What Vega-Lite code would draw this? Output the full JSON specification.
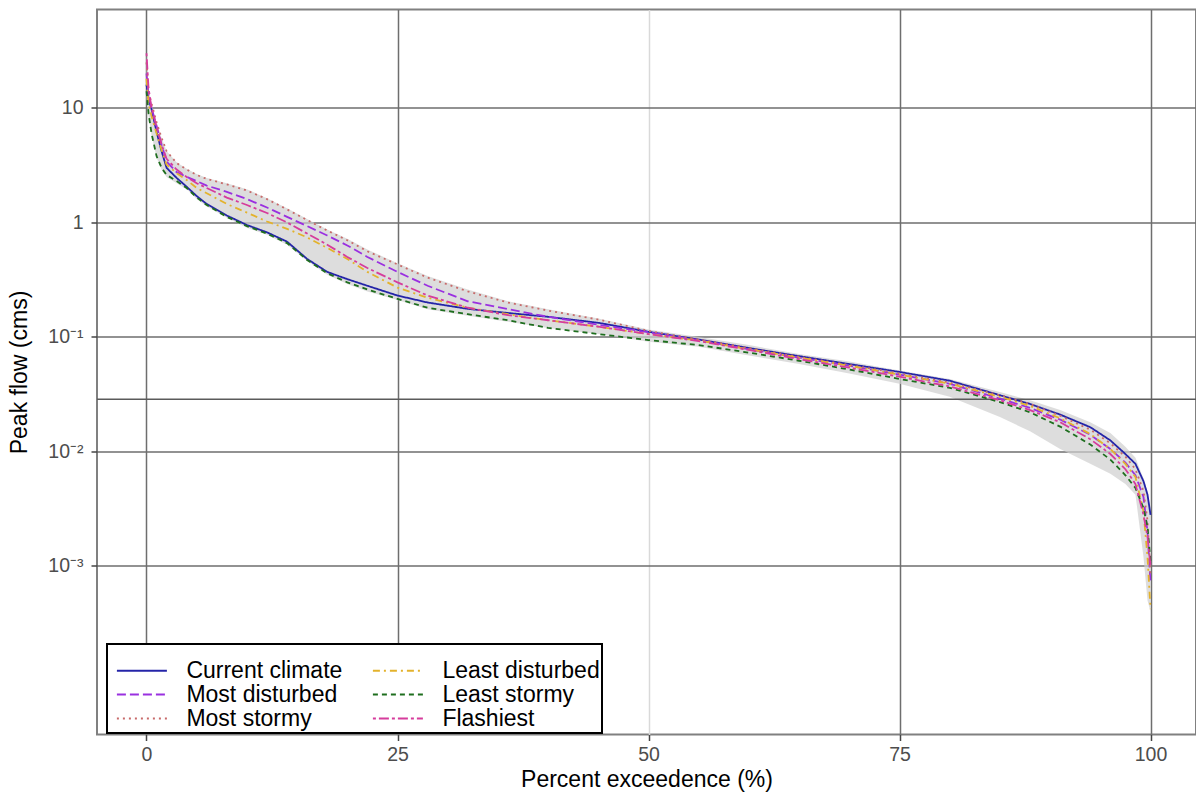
{
"$schema": "https://vega.github.io/schema/vega-lite/v6.json",
"width": 1099, "height": 725,
"autosize": "none",
"padding": {"left": 97, "top": 9.5, "right": 0, "bottom": 63.5},
"background": "white",
"datasets": {
"band": [
{"pct":0,"flow":12,"hi":30},{"pct":0.2,"flow":8.5,"hi":15},{"pct":0.5,"flow":5.8,"hi":11},{"pct":1,"flow":3.7,"hi":7.5},{"pct":1.5,"flow":2.9,"hi":5.5},{"pct":2,"flow":2.5,"hi":4.2},{"pct":3,"flow":2.2,"hi":3.35},{"pct":4,"flow":1.95,"hi":2.95},{"pct":5,"flow":1.6,"hi":2.65},{"pct":6,"flow":1.38,"hi":2.45},{"pct":8,"flow":1.1,"hi":2.2},{"pct":10,"flow":0.9,"hi":1.95},{"pct":12,"flow":0.78,"hi":1.63},{"pct":14,"flow":0.64,"hi":1.33},{"pct":16,"flow":0.46,"hi":1.07},{"pct":18,"flow":0.35,"hi":0.87},{"pct":20,"flow":0.29,"hi":0.72},{"pct":22,"flow":0.25,"hi":0.58},{"pct":25,"flow":0.21,"hi":0.44},{"pct":28,"flow":0.175,"hi":0.34},{"pct":32,"flow":0.153,"hi":0.26},{"pct":36,"flow":0.136,"hi":0.205},{"pct":40,"flow":0.12,"hi":0.175},{"pct":45,"flow":0.106,"hi":0.145},{"pct":50,"flow":0.091,"hi":0.116},{"pct":55,"flow":0.082,"hi":0.1},{"pct":60,"flow":0.069,"hi":0.085},{"pct":65,"flow":0.058,"hi":0.071},{"pct":70,"flow":0.048,"hi":0.061},{"pct":75,"flow":0.039,"hi":0.051},{"pct":80,"flow":0.03,"hi":0.043},{"pct":85,"flow":0.02,"hi":0.033},{"pct":88,"flow":0.015,"hi":0.028},{"pct":91,"flow":0.0105,"hi":0.023},{"pct":94,"flow":0.0078,"hi":0.018},{"pct":96,"flow":0.0064,"hi":0.0145},{"pct":97.5,"flow":0.0052,"hi":0.011},{"pct":98.5,"flow":0.0042,"hi":0.0088},{"pct":99.3,"flow":0.0012,"hi":0.0058},{"pct":99.7,"flow":0.0005,"hi":0.0045},{"pct":100,"flow":0.0004,"hi":0.0032}
],
"threshold": [{"flow": 0.02857}],
"curves": [
{"scenario":"Current climate","pct":0,"flow":16},{"scenario":"Current climate","pct":0.2,"flow":12},{"scenario":"Current climate","pct":0.5,"flow":9.8},{"scenario":"Current climate","pct":1,"flow":6.2},{"scenario":"Current climate","pct":1.5,"flow":4.2},{"scenario":"Current climate","pct":2,"flow":3.0},{"scenario":"Current climate","pct":3,"flow":2.45},{"scenario":"Current climate","pct":4,"flow":2.05},{"scenario":"Current climate","pct":5,"flow":1.7},{"scenario":"Current climate","pct":6,"flow":1.45},{"scenario":"Current climate","pct":8,"flow":1.15},{"scenario":"Current climate","pct":10,"flow":0.95},{"scenario":"Current climate","pct":12,"flow":0.82},{"scenario":"Current climate","pct":14,"flow":0.68},{"scenario":"Current climate","pct":16,"flow":0.48},{"scenario":"Current climate","pct":18,"flow":0.37},{"scenario":"Current climate","pct":20,"flow":0.32},{"scenario":"Current climate","pct":22,"flow":0.28},{"scenario":"Current climate","pct":25,"flow":0.23},{"scenario":"Current climate","pct":28,"flow":0.2},{"scenario":"Current climate","pct":32,"flow":0.176},{"scenario":"Current climate","pct":36,"flow":0.162},{"scenario":"Current climate","pct":40,"flow":0.15},{"scenario":"Current climate","pct":45,"flow":0.133},{"scenario":"Current climate","pct":50,"flow":0.111},{"scenario":"Current climate","pct":55,"flow":0.095},{"scenario":"Current climate","pct":60,"flow":0.08},{"scenario":"Current climate","pct":65,"flow":0.068},{"scenario":"Current climate","pct":70,"flow":0.058},{"scenario":"Current climate","pct":75,"flow":0.0495},{"scenario":"Current climate","pct":80,"flow":0.0415},{"scenario":"Current climate","pct":85,"flow":0.031},{"scenario":"Current climate","pct":88,"flow":0.026},{"scenario":"Current climate","pct":91,"flow":0.021},{"scenario":"Current climate","pct":94,"flow":0.0163},{"scenario":"Current climate","pct":96,"flow":0.0125},{"scenario":"Current climate","pct":97.5,"flow":0.0095},{"scenario":"Current climate","pct":98.5,"flow":0.0078},{"scenario":"Current climate","pct":99.3,"flow":0.0055},{"scenario":"Current climate","pct":99.7,"flow":0.0042},{"scenario":"Current climate","pct":100,"flow":0.0028},
{"scenario":"Most disturbed","pct":0,"flow":20},{"scenario":"Most disturbed","pct":0.2,"flow":13},{"scenario":"Most disturbed","pct":0.5,"flow":10},{"scenario":"Most disturbed","pct":1,"flow":7},{"scenario":"Most disturbed","pct":1.5,"flow":4.8},{"scenario":"Most disturbed","pct":2,"flow":3.4},{"scenario":"Most disturbed","pct":3,"flow":2.75},{"scenario":"Most disturbed","pct":4,"flow":2.5},{"scenario":"Most disturbed","pct":5,"flow":2.3},{"scenario":"Most disturbed","pct":6,"flow":2.1},{"scenario":"Most disturbed","pct":8,"flow":1.85},{"scenario":"Most disturbed","pct":10,"flow":1.6},{"scenario":"Most disturbed","pct":12,"flow":1.35},{"scenario":"Most disturbed","pct":14,"flow":1.12},{"scenario":"Most disturbed","pct":16,"flow":0.93},{"scenario":"Most disturbed","pct":18,"flow":0.77},{"scenario":"Most disturbed","pct":20,"flow":0.63},{"scenario":"Most disturbed","pct":22,"flow":0.5},{"scenario":"Most disturbed","pct":25,"flow":0.37},{"scenario":"Most disturbed","pct":28,"flow":0.28},{"scenario":"Most disturbed","pct":32,"flow":0.205},{"scenario":"Most disturbed","pct":36,"flow":0.175},{"scenario":"Most disturbed","pct":40,"flow":0.15},{"scenario":"Most disturbed","pct":45,"flow":0.128},{"scenario":"Most disturbed","pct":50,"flow":0.11},{"scenario":"Most disturbed","pct":55,"flow":0.094},{"scenario":"Most disturbed","pct":60,"flow":0.078},{"scenario":"Most disturbed","pct":65,"flow":0.066},{"scenario":"Most disturbed","pct":70,"flow":0.056},{"scenario":"Most disturbed","pct":75,"flow":0.047},{"scenario":"Most disturbed","pct":80,"flow":0.039},{"scenario":"Most disturbed","pct":85,"flow":0.029},{"scenario":"Most disturbed","pct":88,"flow":0.024},{"scenario":"Most disturbed","pct":91,"flow":0.019},{"scenario":"Most disturbed","pct":94,"flow":0.014},{"scenario":"Most disturbed","pct":96,"flow":0.0105},{"scenario":"Most disturbed","pct":97.5,"flow":0.008},{"scenario":"Most disturbed","pct":98.5,"flow":0.0062},{"scenario":"Most disturbed","pct":99.3,"flow":0.004},{"scenario":"Most disturbed","pct":99.7,"flow":0.002},{"scenario":"Most disturbed","pct":100,"flow":0.0007},
{"scenario":"Most stormy","pct":0,"flow":25},{"scenario":"Most stormy","pct":0.2,"flow":14},{"scenario":"Most stormy","pct":0.5,"flow":11},{"scenario":"Most stormy","pct":1,"flow":7.5},{"scenario":"Most stormy","pct":1.5,"flow":5.5},{"scenario":"Most stormy","pct":2,"flow":4.2},{"scenario":"Most stormy","pct":3,"flow":3.3},{"scenario":"Most stormy","pct":4,"flow":2.9},{"scenario":"Most stormy","pct":5,"flow":2.6},{"scenario":"Most stormy","pct":6,"flow":2.4},{"scenario":"Most stormy","pct":8,"flow":2.15},{"scenario":"Most stormy","pct":10,"flow":1.9},{"scenario":"Most stormy","pct":12,"flow":1.6},{"scenario":"Most stormy","pct":14,"flow":1.3},{"scenario":"Most stormy","pct":16,"flow":1.05},{"scenario":"Most stormy","pct":18,"flow":0.85},{"scenario":"Most stormy","pct":20,"flow":0.7},{"scenario":"Most stormy","pct":22,"flow":0.56},{"scenario":"Most stormy","pct":25,"flow":0.43},{"scenario":"Most stormy","pct":28,"flow":0.33},{"scenario":"Most stormy","pct":32,"flow":0.25},{"scenario":"Most stormy","pct":36,"flow":0.2},{"scenario":"Most stormy","pct":40,"flow":0.17},{"scenario":"Most stormy","pct":45,"flow":0.142},{"scenario":"Most stormy","pct":50,"flow":0.113},{"scenario":"Most stormy","pct":55,"flow":0.095},{"scenario":"Most stormy","pct":60,"flow":0.08},{"scenario":"Most stormy","pct":65,"flow":0.067},{"scenario":"Most stormy","pct":70,"flow":0.057},{"scenario":"Most stormy","pct":75,"flow":0.048},{"scenario":"Most stormy","pct":80,"flow":0.04},{"scenario":"Most stormy","pct":85,"flow":0.031},{"scenario":"Most stormy","pct":88,"flow":0.026},{"scenario":"Most stormy","pct":91,"flow":0.0205},{"scenario":"Most stormy","pct":94,"flow":0.0155},{"scenario":"Most stormy","pct":96,"flow":0.0118},{"scenario":"Most stormy","pct":97.5,"flow":0.009},{"scenario":"Most stormy","pct":98.5,"flow":0.007},{"scenario":"Most stormy","pct":99.3,"flow":0.0045},{"scenario":"Most stormy","pct":99.7,"flow":0.0025},{"scenario":"Most stormy","pct":100,"flow":0.0008},
{"scenario":"Least disturbed","pct":0,"flow":18},{"scenario":"Least disturbed","pct":0.2,"flow":11},{"scenario":"Least disturbed","pct":0.5,"flow":8.5},{"scenario":"Least disturbed","pct":1,"flow":6},{"scenario":"Least disturbed","pct":1.5,"flow":4.3},{"scenario":"Least disturbed","pct":2,"flow":3.2},{"scenario":"Least disturbed","pct":3,"flow":2.7},{"scenario":"Least disturbed","pct":4,"flow":2.35},{"scenario":"Least disturbed","pct":5,"flow":2.0},{"scenario":"Least disturbed","pct":6,"flow":1.8},{"scenario":"Least disturbed","pct":8,"flow":1.45},{"scenario":"Least disturbed","pct":10,"flow":1.22},{"scenario":"Least disturbed","pct":12,"flow":1.02},{"scenario":"Least disturbed","pct":14,"flow":0.88},{"scenario":"Least disturbed","pct":16,"flow":0.74},{"scenario":"Least disturbed","pct":18,"flow":0.6},{"scenario":"Least disturbed","pct":20,"flow":0.48},{"scenario":"Least disturbed","pct":22,"flow":0.37},{"scenario":"Least disturbed","pct":25,"flow":0.27},{"scenario":"Least disturbed","pct":28,"flow":0.22},{"scenario":"Least disturbed","pct":32,"flow":0.18},{"scenario":"Least disturbed","pct":36,"flow":0.158},{"scenario":"Least disturbed","pct":40,"flow":0.14},{"scenario":"Least disturbed","pct":45,"flow":0.123},{"scenario":"Least disturbed","pct":50,"flow":0.106},{"scenario":"Least disturbed","pct":55,"flow":0.093},{"scenario":"Least disturbed","pct":60,"flow":0.078},{"scenario":"Least disturbed","pct":65,"flow":0.066},{"scenario":"Least disturbed","pct":70,"flow":0.056},{"scenario":"Least disturbed","pct":75,"flow":0.047},{"scenario":"Least disturbed","pct":80,"flow":0.039},{"scenario":"Least disturbed","pct":85,"flow":0.03},{"scenario":"Least disturbed","pct":88,"flow":0.025},{"scenario":"Least disturbed","pct":91,"flow":0.0195},{"scenario":"Least disturbed","pct":94,"flow":0.0142},{"scenario":"Least disturbed","pct":96,"flow":0.0105},{"scenario":"Least disturbed","pct":97.5,"flow":0.0078},{"scenario":"Least disturbed","pct":98.5,"flow":0.006},{"scenario":"Least disturbed","pct":99.3,"flow":0.003},{"scenario":"Least disturbed","pct":99.7,"flow":0.0012},{"scenario":"Least disturbed","pct":100,"flow":0.00042},
{"scenario":"Least stormy","pct":0,"flow":14},{"scenario":"Least stormy","pct":0.2,"flow":9},{"scenario":"Least stormy","pct":0.5,"flow":6},{"scenario":"Least stormy","pct":1,"flow":3.8},{"scenario":"Least stormy","pct":1.5,"flow":3.0},{"scenario":"Least stormy","pct":2,"flow":2.6},{"scenario":"Least stormy","pct":3,"flow":2.3},{"scenario":"Least stormy","pct":4,"flow":2.0},{"scenario":"Least stormy","pct":5,"flow":1.65},{"scenario":"Least stormy","pct":6,"flow":1.42},{"scenario":"Least stormy","pct":8,"flow":1.12},{"scenario":"Least stormy","pct":10,"flow":0.93},{"scenario":"Least stormy","pct":12,"flow":0.8},{"scenario":"Least stormy","pct":14,"flow":0.66},{"scenario":"Least stormy","pct":16,"flow":0.47},{"scenario":"Least stormy","pct":18,"flow":0.36},{"scenario":"Least stormy","pct":20,"flow":0.3},{"scenario":"Least stormy","pct":22,"flow":0.26},{"scenario":"Least stormy","pct":25,"flow":0.215},{"scenario":"Least stormy","pct":28,"flow":0.18},{"scenario":"Least stormy","pct":32,"flow":0.158},{"scenario":"Least stormy","pct":36,"flow":0.14},{"scenario":"Least stormy","pct":40,"flow":0.12},{"scenario":"Least stormy","pct":45,"flow":0.106},{"scenario":"Least stormy","pct":50,"flow":0.094},{"scenario":"Least stormy","pct":55,"flow":0.085},{"scenario":"Least stormy","pct":60,"flow":0.073},{"scenario":"Least stormy","pct":65,"flow":0.062},{"scenario":"Least stormy","pct":70,"flow":0.052},{"scenario":"Least stormy","pct":75,"flow":0.043},{"scenario":"Least stormy","pct":80,"flow":0.036},{"scenario":"Least stormy","pct":85,"flow":0.027},{"scenario":"Least stormy","pct":88,"flow":0.022},{"scenario":"Least stormy","pct":91,"flow":0.0165},{"scenario":"Least stormy","pct":94,"flow":0.0115},{"scenario":"Least stormy","pct":96,"flow":0.0085},{"scenario":"Least stormy","pct":97.5,"flow":0.0062},{"scenario":"Least stormy","pct":98.5,"flow":0.0048},{"scenario":"Least stormy","pct":99.3,"flow":0.0032},{"scenario":"Least stormy","pct":99.7,"flow":0.0022},{"scenario":"Least stormy","pct":100,"flow":0.0011},
{"scenario":"Flashiest","pct":0,"flow":30},{"scenario":"Flashiest","pct":0.2,"flow":15},{"scenario":"Flashiest","pct":0.5,"flow":10},{"scenario":"Flashiest","pct":1,"flow":6.8},{"scenario":"Flashiest","pct":1.5,"flow":4.8},{"scenario":"Flashiest","pct":2,"flow":3.6},{"scenario":"Flashiest","pct":3,"flow":2.9},{"scenario":"Flashiest","pct":4,"flow":2.5},{"scenario":"Flashiest","pct":5,"flow":2.2},{"scenario":"Flashiest","pct":6,"flow":2.0},{"scenario":"Flashiest","pct":8,"flow":1.65},{"scenario":"Flashiest","pct":10,"flow":1.42},{"scenario":"Flashiest","pct":12,"flow":1.21},{"scenario":"Flashiest","pct":14,"flow":1.0},{"scenario":"Flashiest","pct":16,"flow":0.8},{"scenario":"Flashiest","pct":18,"flow":0.64},{"scenario":"Flashiest","pct":20,"flow":0.5},{"scenario":"Flashiest","pct":22,"flow":0.4},{"scenario":"Flashiest","pct":25,"flow":0.3},{"scenario":"Flashiest","pct":28,"flow":0.23},{"scenario":"Flashiest","pct":32,"flow":0.18},{"scenario":"Flashiest","pct":36,"flow":0.155},{"scenario":"Flashiest","pct":40,"flow":0.14},{"scenario":"Flashiest","pct":45,"flow":0.123},{"scenario":"Flashiest","pct":50,"flow":0.106},{"scenario":"Flashiest","pct":55,"flow":0.092},{"scenario":"Flashiest","pct":60,"flow":0.077},{"scenario":"Flashiest","pct":65,"flow":0.064},{"scenario":"Flashiest","pct":70,"flow":0.054},{"scenario":"Flashiest","pct":75,"flow":0.045},{"scenario":"Flashiest","pct":80,"flow":0.037},{"scenario":"Flashiest","pct":85,"flow":0.028},{"scenario":"Flashiest","pct":88,"flow":0.023},{"scenario":"Flashiest","pct":91,"flow":0.018},{"scenario":"Flashiest","pct":94,"flow":0.0128},{"scenario":"Flashiest","pct":96,"flow":0.0095},{"scenario":"Flashiest","pct":97.5,"flow":0.007},{"scenario":"Flashiest","pct":98.5,"flow":0.0052},{"scenario":"Flashiest","pct":99.3,"flow":0.0028},{"scenario":"Flashiest","pct":99.7,"flow":0.0018},{"scenario":"Flashiest","pct":100,"flow":0.001}
]
},
"layer": [
{
"data": {"name": "band"},
"mark": {"type": "area", "color": "#cfcfcf", "opacity": 0.7},
"encoding": {
"x": {"field": "pct", "type": "quantitative",
"scale": {"domain": [-4.93, 104.53], "nice": false, "zero": false},
"axis": {"values": [0, 25, 50, 75, 100], "title": "Percent exceedence (%)",
"gridColor": {"condition": {"test": "datum.value === 50", "value": "#d9d9d9"}, "value": "#6e6e6e"}}},
"y": {"field": "flow", "type": "quantitative",
"scale": {"type": "log", "domain": [0.00003377, 72.4], "nice": false},
"axis": {"values": [10, 1, 0.1, 0.01, 0.001], "title": "Peak flow (cms)",
"labelExpr": "datum.value >= 5 ? '10' : datum.value >= 0.5 ? '1' : datum.value >= 0.05 ? '10⁻¹' : datum.value >= 0.005 ? '10⁻²' : '10⁻³'"}},
"y2": {"field": "hi"}
}
},
{
"data": {"name": "threshold"},
"mark": {"type": "rule", "color": "#5a5a5a", "strokeWidth": 1.5},
"encoding": {"y": {"field": "flow", "type": "quantitative"}}
},
{
"data": {"name": "curves"},
"mark": {"type": "line", "strokeWidth": 1.8},
"encoding": {
"x": {"field": "pct", "type": "quantitative"},
"y": {"field": "flow", "type": "quantitative"},
"color": {"field": "scenario", "type": "nominal",
"scale": {"domain": ["Current climate", "Most disturbed", "Most stormy", "Least disturbed", "Least stormy", "Flashiest"],
"range": ["#2424a8", "#9a30e0", "#c86a6a", "#e3b22c", "#1e6e1e", "#d63c9c"]},
"legend": {"title": " "}},
"strokeDash": {"field": "scenario", "type": "nominal",
"scale": {"domain": ["Current climate", "Most disturbed", "Most stormy", "Least disturbed", "Least stormy", "Flashiest"],
"range": [[1, 0], [9, 4], [2, 4], [7, 4, 2, 4], [5, 4], [3, 3, 10, 3]]},
"legend": {"title": " "}}
}
}
],
"config": {
"font": "Liberation Sans",
"view": {"stroke": "#808080", "strokeWidth": 2},
"axis": {
"grid": true, "gridColor": "#6e6e6e", "gridWidth": 1.5,
"domain": false, "ticks": true, "tickColor": "#444444", "tickSize": 6, "tickWidth": 1.5,
"labelFont": "Liberation Sans", "labelFontSize": 19.5, "labelColor": "#4d4d4d", "labelPadding": 5,
"titleFont": "Liberation Sans", "titleFontSize": 23, "titleFontWeight": "normal", "titleColor": "#000000"
},
"axisX": {"titlePadding": 4, "labelFlush": false},
"axisY": {"titlePadding": 16, "labelPadding": 8, "labelFlush": false},
"legend": {
"orient": "none", "legendX": 10, "legendY": 634.5, "columns": 2,
"symbolType": "M-5,0H5", "symbolSize": 100, "symbolStrokeWidth": 2, "symbolOffset": 21.4,
"labelFont": "Liberation Sans", "labelFontSize": 23, "labelColor": "#000000", "labelOffset": 33, "labelLimit": 400,
"columnPadding": 22, "rowPadding": 0, "padding": 2,
"strokeColor": "#000000", "strokeWidth": 2, "fillColor": "#ffffff", "cornerRadius": 0,
"titleFontSize": 10, "titlePadding": 3
}
}
}
